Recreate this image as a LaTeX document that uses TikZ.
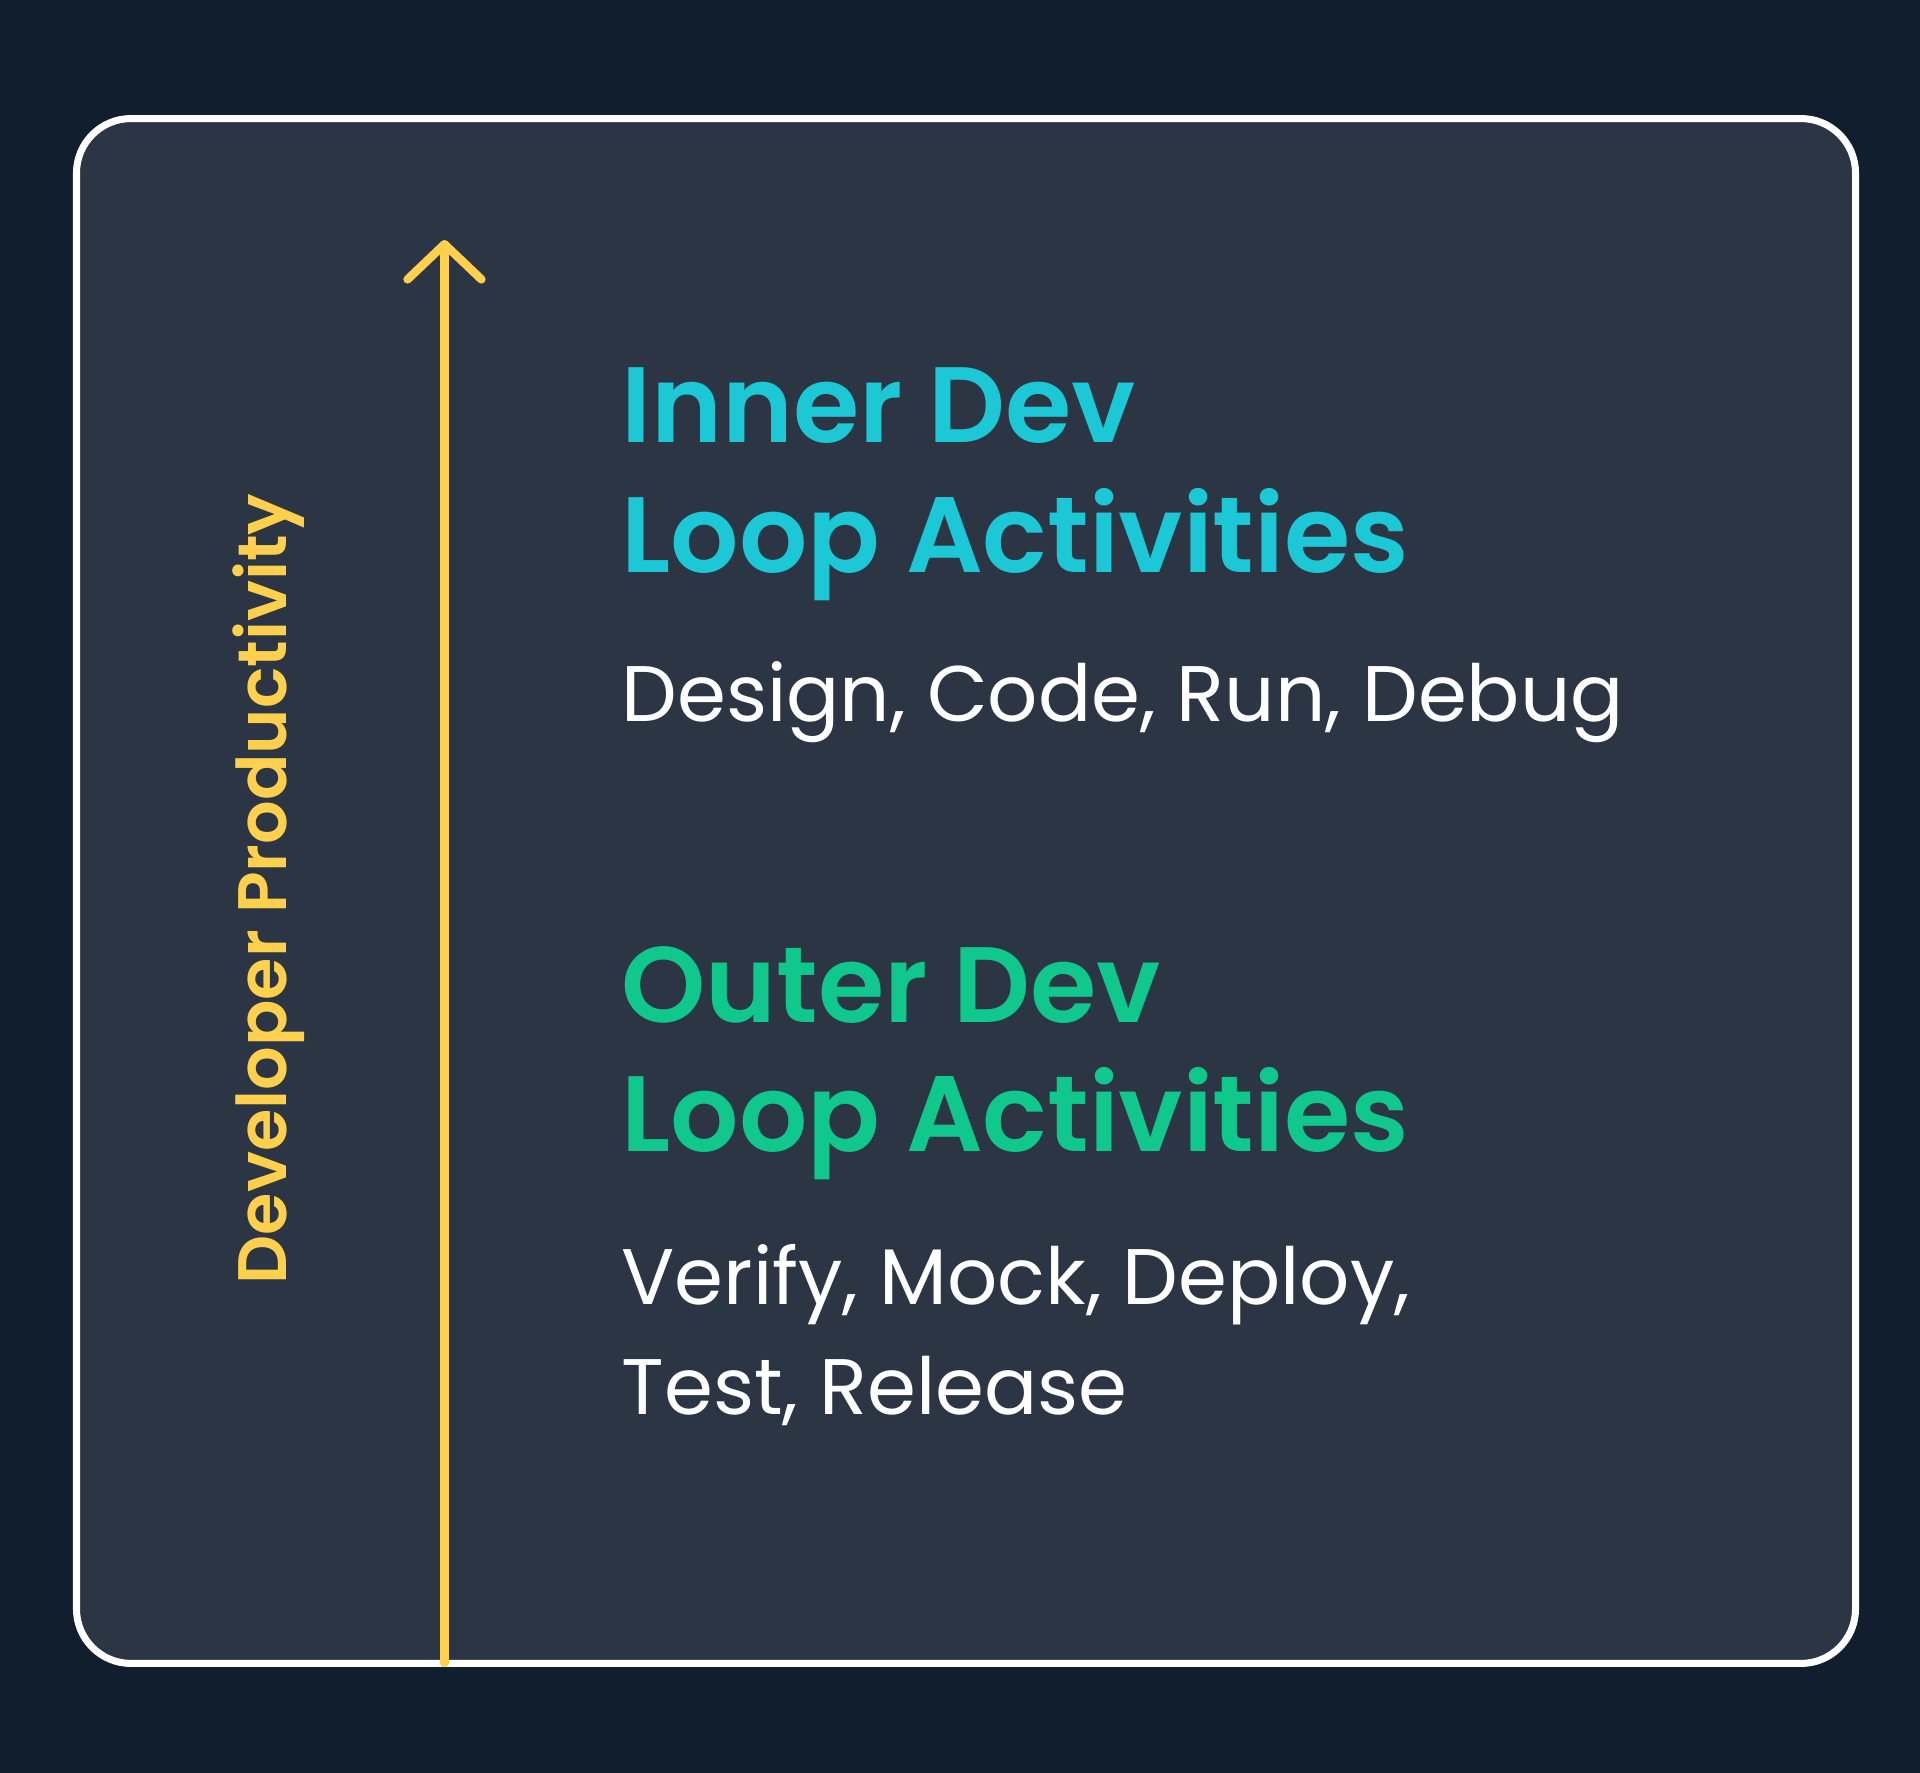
\documentclass[tikz,border=0pt]{standalone}
\usepackage{fontspec}
\setmainfont{Poppins}
\newfontfamily\headfont{Poppins SemiBold}
\usetikzlibrary{arrows.meta, positioning}
\definecolor{pagebg}{RGB}{16, 30, 46}
\definecolor{panelbg}{RGB}{43, 53, 67}
\definecolor{innercyan}{RGB}{28, 200, 214}
\definecolor{outergreen}{RGB}{16, 200, 140}
\definecolor{axisyellow}{RGB}{255, 208, 77}

\begin{document}
\begin{tikzpicture}[
    x=0.01cm, y=-0.01cm,
    panel/.style={rectangle, rounded corners=15.5pt, draw=white, line width=2pt,
                  fill=panelbg, minimum width=17.78cm, minimum height=15.44cm},
    axis/.style={-{Straight Barb[length=10pt, width=21pt, round]}, line width=2.4pt,
                 color=axisyellow, line cap=round},
    title/.style={anchor=base west, inner sep=0pt, font=\fontsize{30.5}{37}\headfont},
    items/.style={anchor=base west, inner sep=0pt, text=white, font=\fontsize{22.4}{27}\selectfont},
    axislabel/.style={anchor=base, rotate=90, inner sep=0pt, text=axisyellow,
                      font=\fontsize{19.5}{24}\headfont}
  ]
    % Background and page size
    \fill[pagebg] (0,0) rectangle (1920,1773);
    \useasboundingbox (0,0) rectangle (1920,1773);
    % Panel
    \node[panel] (panel) at (966,891) {};
    % Productivity axis
    \coordinate (axisbase) at (444.5,1663);
    \coordinate (axistip) at (444.5,240);
    \draw[axis] (axisbase) -- (axistip);
    \node[axislabel] (prod) at (286,889) {Developer Productivity};

    % Inner loop
    \node[title, text=innercyan] (inner1) at (621,443) {Inner Dev};
    \node[title, text=innercyan] (inner2) at (621,573) {Loop Activities};
    \node[items] (innerlist) at (621,722) {Design, Code, Run, Debug};
    % Outer loop
    \node[title, text=outergreen] (outer1) at (621,1022) {Outer Dev};
    \node[title, text=outergreen] (outer2) at (621,1151) {Loop Activities};
    \node[items] (outerlist1) at (621,1304) {Verify, Mock, Deploy,};
    \node[items] (outerlist2) at (621,1414) {Test, Release};
  \end{tikzpicture}
\end{document}
